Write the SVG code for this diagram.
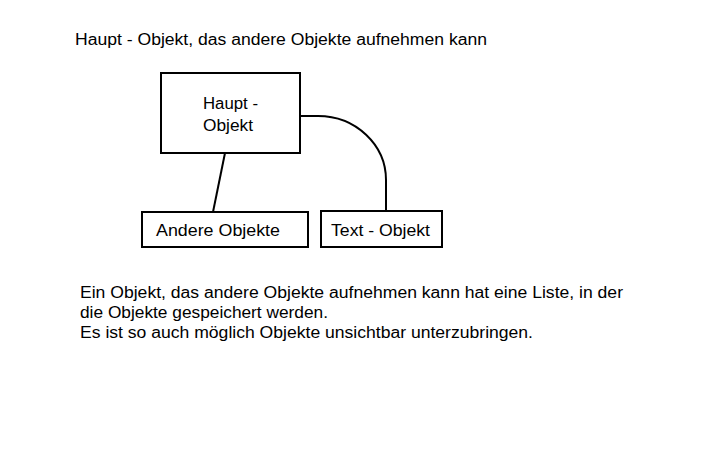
<svg xmlns="http://www.w3.org/2000/svg" width="709" height="472" viewBox="0 0 709 472">
<style>
text{font-family:"Liberation Sans",Arial,sans-serif;font-size:16px;fill:#000}
.box{fill:#fff;stroke:#000;stroke-width:2}
.con{fill:none;stroke:#000;stroke-width:2}
</style>
<rect width="709" height="472" fill="#fff"/>
<text x="75" y="45" textLength="412" lengthAdjust="spacingAndGlyphs">Haupt - Objekt, das andere Objekte aufnehmen kann</text>
<g id="connectors">
<path class="con" d="M225,153 L213,212"/>
<path class="con" d="M300,116 H318 A68 64 0 0 1 386 180 V211"/>
</g>
<g id="haupt">
<rect class="box" x="161" y="73" width="139" height="80"/>
<text x="203" y="109" textLength="55" lengthAdjust="spacingAndGlyphs">Haupt -</text>
<text x="203" y="131" textLength="50" lengthAdjust="spacingAndGlyphs">Objekt</text>
</g>
<g id="andere">
<rect class="box" x="142" y="212" width="166" height="35"/>
<text x="156" y="236" textLength="124" lengthAdjust="spacingAndGlyphs">Andere Objekte</text>
</g>
<g id="textobjekt">
<rect class="box" x="321" y="211" width="121" height="36"/>
<text x="331" y="236" textLength="99" lengthAdjust="spacingAndGlyphs">Text - Objekt</text>
</g>
<text x="80" y="298" textLength="543" lengthAdjust="spacingAndGlyphs">Ein Objekt, das andere Objekte aufnehmen kann hat eine Liste, in der</text>
<text x="80" y="318" textLength="248" lengthAdjust="spacingAndGlyphs">die Objekte gespeichert werden.</text>
<text x="80" y="338" textLength="453" lengthAdjust="spacingAndGlyphs">Es ist so auch möglich Objekte unsichtbar unterzubringen.</text>
</svg>
